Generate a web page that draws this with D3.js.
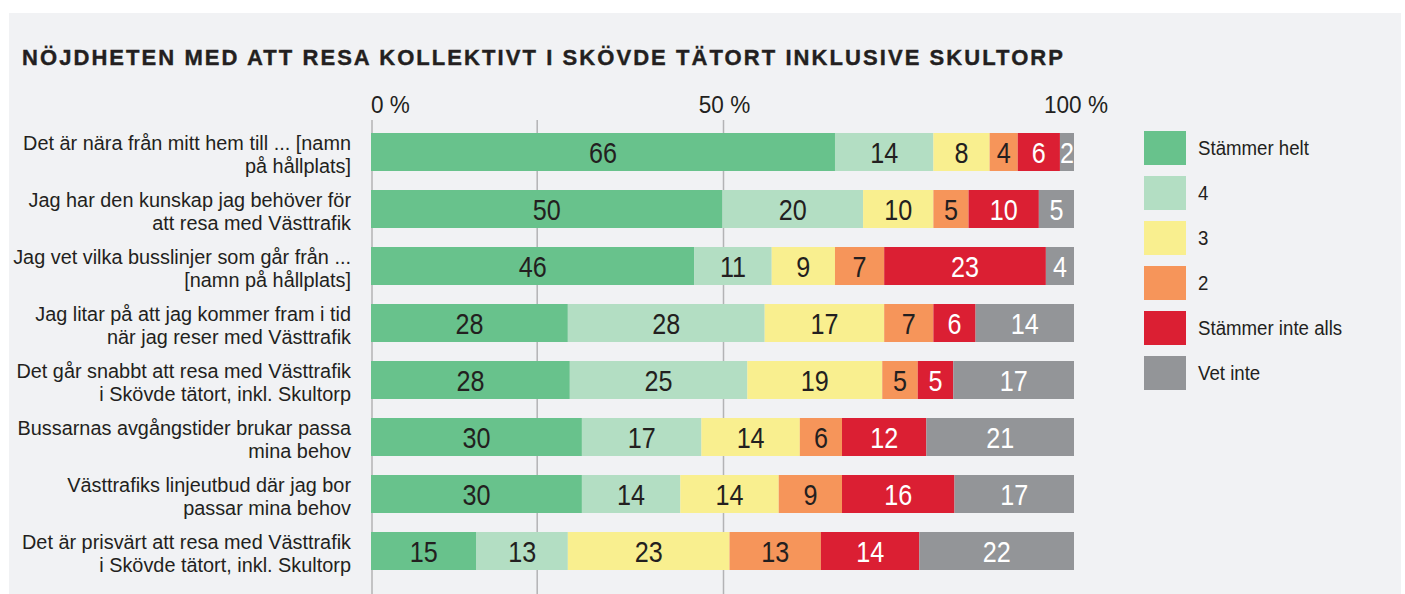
<!DOCTYPE html>
<html>
<head>
<meta charset="utf-8">
<script src="https://cdn.jsdelivr.net/npm/d3@7"></script>
<style>
  html, body { margin: 0; padding: 0; background: #fff; }
  svg { display: block; }
  text { font-family: "Liberation Sans", Arial, sans-serif; fill: #231f20; }
</style>
</head>
<body>
<script>
const CATEGORIES = [
  'Det är nära från mitt hem till ... [namn\npå hållplats]',
  'Jag har den kunskap jag behöver för\natt resa med Västtrafik',
  'Jag vet vilka busslinjer som går från ...\n[namn på hållplats]',
  'Jag litar på att jag kommer fram i tid\nnär jag reser med Västtrafik',
  'Det går snabbt att resa med Västtrafik\ni Skövde tätort, inkl. Skultorp',
  'Bussarnas avgångstider brukar passa\nmina behov',
  'Västtrafiks linjeutbud där jag bor\npassar mina behov',
  'Det är prisvärt att resa med Västtrafik\ni Skövde tätort, inkl. Skultorp'
]

const SERIES = ['Stämmer helt', '4', '3', '2', 'Stämmer inte alls', 'Vet inte']

const STAMMER_HELT = [66, 50, 46, 28, 28, 30, 30, 15]
const FYRA = [14, 20, 11, 28, 25, 17, 14, 13]
const TRE = [8, 10, 9, 17, 19, 14, 14, 23]
const TVA = [4, 5, 7, 7, 5, 6, 9, 13]
const STAMMER_INTE = [6, 10, 23, 6, 5, 12, 16, 14]
const VET_INTE = [2, 5, 4, 14, 17, 21, 17, 22]

const TICKS = [0, 0.5, 1]
const TICK_LABELS = ['0 %', '50 %', '100 %']
const GRID = [0, 0.235, 0.5]

const COLORS = ['#68c28c', '#b3dec3', '#f9ef8f', '#f6955a', '#db1f33', '#939598']
const LABEL_COLORS = ['#231f20', '#231f20', '#231f20', '#231f20', '#ffffff', '#ffffff']

const WIDTH = 1405
const HEIGHT = 594

// table for d3.stack
const seriesValues = [STAMMER_HELT, FYRA, TRE, TVA, STAMMER_INTE, VET_INTE]
const rows = CATEGORIES.map((c, i) => {
  const r = { cat: c }
  SERIES.forEach((s, j) => { r[s] = seriesValues[j][i] })
  return r
})

const stacked = d3.stack()
  .keys(SERIES)
  .offset(d3.stackOffsetExpand)(rows)

const svg = d3.select('body').append('svg')
  .attr('width', WIDTH)
  .attr('height', HEIGHT)

// no condensed font installed -> squeeze text horizontally to the reference width
function squeeze(sample, size, target) {
  const t = svg.append('text').style('font-size', size + 'px').text(sample)
  const w = t.node().getComputedTextLength()
  t.remove()
  return target / w
}

// panel
svg.append('rect')
  .attr('x', 9).attr('y', 13)
  .attr('width', 1392).attr('height', 581)
  .attr('fill', '#f1f2f4')

// title
svg.append('text')
  .attr('x', 22).attr('y', 65)
  .attr('textLength', 1041)
  .attr('lengthAdjust', 'spacing')
  .style('font-weight', 'bold')
  .style('font-size', '22px')
  .style('stroke', '#231f20')
  .style('stroke-width', 0.4)
  .text('NÖJDHETEN MED ATT RESA KOLLEKTIVT I SKÖVDE TÄTORT INKLUSIVE SKULTORP')

const x = d3.scaleLinear().domain([0, 1]).range([371, 1074])
const y = d3.scaleBand().domain(CATEGORIES).range([133, 570]).paddingInner(1 / 3).paddingOuter(0)

// grid lines
svg.append('g')
  .selectAll('line')
  .data(GRID)
  .enter()
  .append('line')
  .attr('x1', d => x(d) + 1).attr('x2', d => x(d) + 1)
  .attr('y1', 120).attr('y2', HEIGHT)
  .attr('stroke', '#b3b3b5')
  .attr('stroke-width', 1.5)

// axis labels on top
const kAxis = squeeze('100 %', 24, 64)
svg.append('g')
  .selectAll('text')
  .data(TICKS)
  .enter()
  .append('text')
  .attr('transform', (d, i) => `translate(${i === 0 ? x(d) : x(d) + 2}, 113) scale(${kAxis}, 1)`)
  .attr('text-anchor', (d, i) => i === 0 ? 'start' : 'middle')
  .style('font-size', '24px')
  .text((d, i) => TICK_LABELS[i])

// bars
const layer = svg.append('g')
  .selectAll('g')
  .data(stacked)
  .enter()
  .append('g')
  .attr('fill', (d, i) => COLORS[i])

layer.selectAll('rect')
  .data(d => d)
  .enter()
  .append('rect')
  .attr('x', d => x(d[0]))
  .attr('y', d => y(d.data.cat))
  .attr('width', d => x(d[1]) - x(d[0]))
  .attr('height', y.bandwidth())

// values inside bars
const kVal = squeeze('66', 30, 28)
stacked.forEach((s, i) => {
  svg.append('g')
    .selectAll('text')
    .data(s)
    .enter()
    .append('text')
    .attr('transform', d => `translate(${(x(d[0]) + x(d[1])) / 2}, ${y(d.data.cat) + y.bandwidth() / 2 + 11}) scale(${kVal}, 1)`)
    .attr('text-anchor', 'middle')
    .style('font-size', '30px')
    .style('fill', LABEL_COLORS[i])
    .text(d => d.data[s.key])
})

// category labels, two lines
const kCat = squeeze('Det är nära från mitt hem till ... [namn', 21, 328)
const cat = svg.append('g')
  .attr('transform', `translate(351, 0) scale(${kCat}, 1)`)
  .selectAll('text')
  .data(CATEGORIES)
  .enter()
  .append('text')
  .attr('text-anchor', 'end')
  .style('font-size', '21px')

cat.selectAll('tspan')
  .data(d => d.split('\n').map(t => ({ t, c: d })))
  .enter()
  .append('tspan')
  .attr('x', 0)
  .attr('y', (d, i) => y(d.c) + y.bandwidth() / 2 - 2 + i * 23)
  .text(d => d.t)

// legend
const RECT_W = 42
const RECT_H = 34
const STEP = 45

const legend = svg.append('g')
  .attr('transform', 'translate(1144, 131)')

legend.selectAll('rect')
  .data(SERIES)
  .enter()
  .append('rect')
  .attr('y', (d, i) => i * STEP)
  .attr('width', RECT_W)
  .attr('height', RECT_H)
  .attr('fill', (d, i) => COLORS[i])

const kLeg = squeeze('Stämmer helt', 21, 111)
legend.selectAll('text')
  .data(SERIES)
  .enter()
  .append('text')
  .attr('transform', (d, i) => `translate(54, ${i * STEP + RECT_H / 2 + 7}) scale(${kLeg}, 1)`)
  .style('font-size', '21px')
  .text(d => d)
</script>
</body>
</html>
